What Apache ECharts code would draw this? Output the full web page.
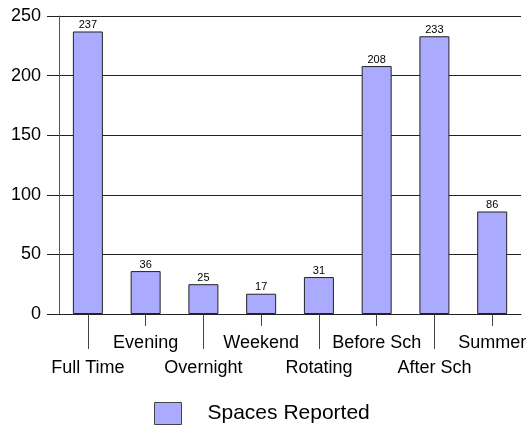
<!DOCTYPE html>
<html>
<head>
<meta charset="utf-8">
<script src="https://cdn.jsdelivr.net/npm/echarts@6/dist/echarts.min.js"></script>
<style>
	html,body{margin:0;padding:0;background:#fff;}
	#app{width:529px;height:425px;}
</style>
</head>
<body>
<div id="app"></div>
<script>
	var categories = ['Full Time','Evening','Overnight','Weekend','Rotating','Before Sch','After Sch','Summer'];
	var spaces = [237,36,25,17,31,208,233,86];
	var yTicks = [0,50,100,150,200,250];

	var FONT = '"Liberation Sans", Arial, sans-serif';
	var chart = echarts.init(document.getElementById('app'));

	chart.setOption({
		animation:false,
		backgroundColor:'#fff',
		grid:{ left:59, right:5, top:16, bottom:111, },
		legend:{
			data:['Spaces Reported'],
			left:154, top:402, padding:0,
			itemWidth:27, itemHeight:22,
			icon:'rect',
			itemStyle:{ borderColor:'#444', borderWidth:1, },
			textStyle:{ fontFamily:FONT, fontSize:21, color:'#000', padding:[0,0,0,21], },
		},
		xAxis:[
			{
				type:'category',
				data:categories,
				axisLine:{ show:true, lineStyle:{ color:'#222', width:1, }, },
				axisTick:{
					show:true, alignWithLabel:true, length:35,
					interval:function(i){ return i%2==0; },
					lineStyle:{ color:'#444', },
				},
				axisLabel:{
					interval:0, margin:17,
					fontFamily:FONT, fontSize:18, color:'#000', lineHeight:25,
					formatter:function(v,i){ return i%2==0 ? '\n'+v : v; },
				},
			},
			{
				type:'category',
				data:categories,
				position:'bottom',
				axisLine:{ show:false, },
				axisTick:{
					show:true, alignWithLabel:true, length:12,
					interval:function(i){ return i%2==1; },
					lineStyle:{ color:'#444', },
				},
				axisLabel:{ show:false, },
			},
		],
		yAxis:{
			type:'value',
			min:yTicks[0], max:yTicks[yTicks.length-1], interval:50,
			axisLine:{ show:true, lineStyle:{ color:'#555', }, },
			axisTick:{ show:true, length:12, lineStyle:{ color:'#222', }, },
			axisLabel:{ margin:18, fontFamily:FONT, fontSize:18, color:'#000', },
			splitLine:{ show:true, lineStyle:{ color:'#222', width:1, }, },
		},
		series:[
			{
				name:'Spaces Reported',
				type:'bar',
				data:spaces,
				barWidth:30,
				itemStyle:{ color:'#aaaaff', borderColor:'#222', borderWidth:1, },
				label:{
					show:true, position:'top', distance:1,
					fontFamily:FONT, fontSize:11, color:'#000',
				},
			},
		],
	});
</script>
</body>
</html>
